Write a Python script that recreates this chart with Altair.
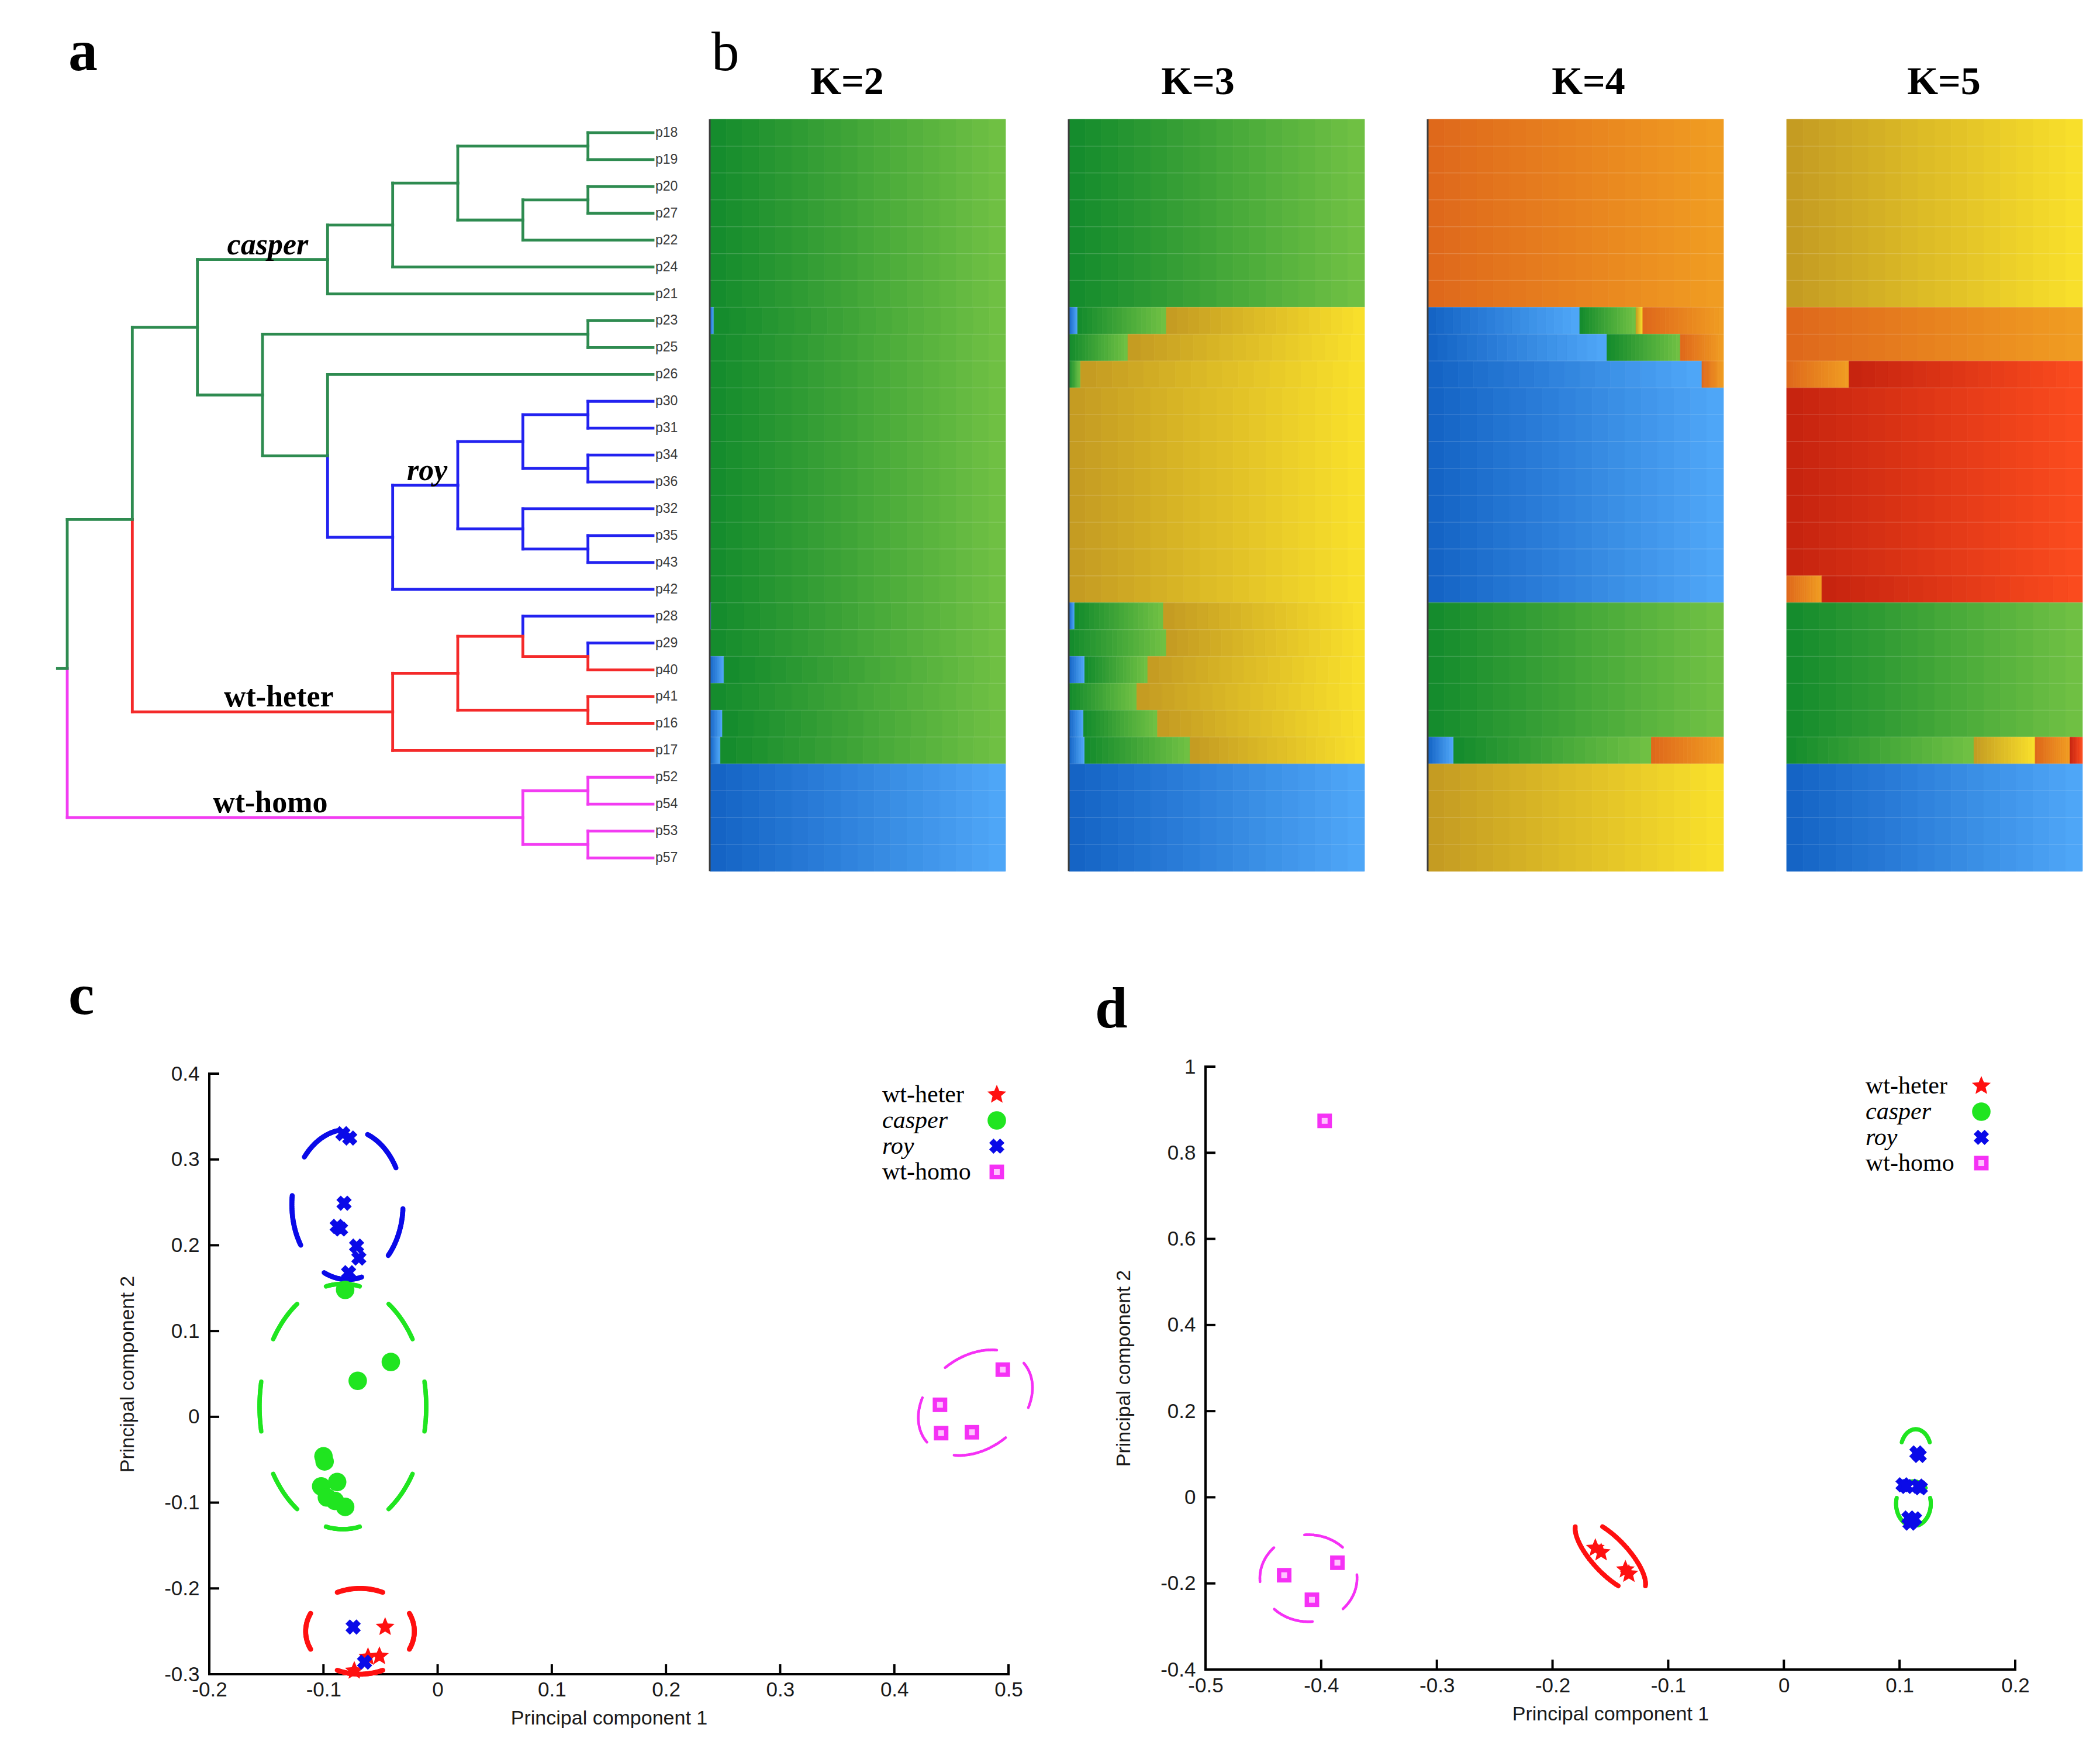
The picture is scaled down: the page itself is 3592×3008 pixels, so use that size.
import altair as alt
import numpy as np
import pandas as pd

# ------------------------------------------------------------------ data
LEAVES = ["p18", "p19", "p20", "p27", "p22", "p24", "p21", "p23", "p25", "p26",
          "p30", "p31", "p34", "p36", "p32", "p35", "p43", "p42",
          "p28", "p29", "p40", "p41", "p16", "p17", "p52", "p54", "p53", "p57"]
LEAF_GROUP = (["casper"] * 10 + ["roy"] * 8 + ["roy", "roy"] +
              ["wt-heter"] * 4 + ["wt-homo"] * 4)

# internal nodes: (name, level, group, child1, child2) -- children listed first
TREE_NODES = [
    ("A", 8, "casper", "p18", "p19"),
    ("B", 8, "casper", "p20", "p27"),
    ("C", 7, "casper", "B", "p22"),
    ("D", 6, "casper", "A", "C"),
    ("E", 5, "casper", "D", "p24"),
    ("F", 4, "casper", "E", "p21"),
    ("I", 8, "casper", "p23", "p25"),
    ("M1", 8, "roy", "p30", "p31"),
    ("M2", 8, "roy", "p34", "p36"),
    ("M", 7, "roy", "M1", "M2"),
    ("N1", 8, "roy", "p35", "p43"),
    ("N", 7, "roy", "p32", "N1"),
    ("L", 6, "roy", "M", "N"),
    ("K", 5, "roy", "L", "p42"),
    ("J", 4, "casper", "p26", "K"),
    ("H", 3, "casper", "I", "J"),
    ("G", 2, "casper", "F", "H"),
    ("Q1", 8, "wt-heter", "p29", "p40"),
    ("Q", 7, "wt-heter", "p28", "Q1"),
    ("P1", 8, "wt-heter", "p41", "p16"),
    ("P", 6, "wt-heter", "Q", "P1"),
    ("O", 5, "wt-heter", "P", "p17"),
    ("R", 1, "casper", "G", "O"),
    ("S1", 8, "wt-homo", "p52", "p54"),
    ("S2", 8, "wt-homo", "p53", "p57"),
    ("S", 7, "wt-homo", "S1", "S2"),
    ("ROOT", 0, "casper", "R", "S"),
]
LEAF_LEVEL = 9
CLADE_LABELS = ["casper", "roy", "wt-heter", "wt-homo"]
CLADE_LABEL_LEVEL = [3.08, 5.53, 3.25, 3.12]
CLADE_LABEL_NODE = ["F", "L", "O", "S"]

# admixture proportions, one value per leaf (same order as LEAVES)
K_LIST = ["K=2", "K=3", "K=4", "K=5"]
K2_BLUE = [0, 0, 0, 0, 0, 0, 0, 0.014, 0, 0, 0, 0, 0, 0, 0, 0, 0, 0,
           0.005, 0, 0.048, 0, 0.043, 0.036, 1, 1, 1, 1]
K2_GREEN = [1, 1, 1, 1, 1, 1, 1, 0.986, 1, 1, 1, 1, 1, 1, 1, 1, 1, 1,
            0.995, 1, 0.952, 1, 0.957, 0.964, 0, 0, 0, 0]
K3_BLUE = [0, 0, 0, 0, 0, 0, 0, 0.03, 0, 0, 0, 0, 0, 0, 0, 0, 0, 0,
           0.02, 0, 0.054, 0, 0.05, 0.054, 1, 1, 1, 1]
K3_GREEN = [1, 1, 1, 1, 1, 1, 1, 0.30, 0.20, 0.04, 0, 0, 0, 0, 0, 0, 0, 0,
            0.30, 0.33, 0.213, 0.23, 0.25, 0.356, 0, 0, 0, 0]
K3_YELLOW = [0, 0, 0, 0, 0, 0, 0, 0.67, 0.80, 0.96, 1, 1, 1, 1, 1, 1, 1, 1,
             0.68, 0.67, 0.733, 0.77, 0.70, 0.59, 0, 0, 0, 0]
K4_BLUE = [0, 0, 0, 0, 0, 0, 0, 0.514, 0.606, 0.927, 1, 1, 1, 1, 1, 1, 1, 1,
           0, 0, 0, 0, 0, 0.088, 0, 0, 0, 0]
K4_GREEN = [0, 0, 0, 0, 0, 0, 0, 0.19, 0.248, 0, 0, 0, 0, 0, 0, 0, 0, 0,
            1, 1, 1, 1, 1, 0.668, 0, 0, 0, 0]
K4_YELLOW = [0, 0, 0, 0, 0, 0, 0, 0.023, 0, 0, 0, 0, 0, 0, 0, 0, 0, 0,
             0, 0, 0, 0, 0, 0, 1, 1, 1, 1]
K4_ORANGE = [1, 1, 1, 1, 1, 1, 1, 0.273, 0.146, 0.073, 0, 0, 0, 0, 0, 0, 0, 0,
             0, 0, 0, 0, 0, 0.244, 0, 0, 0, 0]
K5_BLUE = [0, 0, 0, 0, 0, 0, 0, 0, 0, 0, 0, 0, 0, 0, 0, 0, 0, 0,
           0, 0, 0, 0, 0, 0, 1, 1, 1, 1]
K5_GREEN = [0, 0, 0, 0, 0, 0, 0, 0, 0, 0, 0, 0, 0, 0, 0, 0, 0, 0,
            1, 1, 1, 1, 1, 0.633, 0, 0, 0, 0]
K5_YELLOW = [1, 1, 1, 1, 1, 1, 1, 0, 0, 0, 0, 0, 0, 0, 0, 0, 0, 0,
             0, 0, 0, 0, 0, 0.207, 0, 0, 0, 0]
K5_ORANGE = [0, 0, 0, 0, 0, 0, 0, 1, 1, 0.211, 0, 0, 0, 0, 0, 0, 0, 0.119,
             0, 0, 0, 0, 0, 0.118, 0, 0, 0, 0]
K5_RED = [0, 0, 0, 0, 0, 0, 0, 0, 0, 0.789, 1, 1, 1, 1, 1, 1, 1, 0.881,
          0, 0, 0, 0, 0, 0.042, 0, 0, 0, 0]
K_DATA = {
    "K=2": {"blue": K2_BLUE, "green": K2_GREEN},
    "K=3": {"blue": K3_BLUE, "green": K3_GREEN, "yellow": K3_YELLOW},
    "K=4": {"blue": K4_BLUE, "green": K4_GREEN, "yellow": K4_YELLOW, "orange": K4_ORANGE},
    "K=5": {"blue": K5_BLUE, "green": K5_GREEN, "yellow": K5_YELLOW,
            "orange": K5_ORANGE, "red": K5_RED},
}
COMP_ORDER = ["blue", "green", "yellow", "orange", "red"]

# PCA panel c
GROUPS = ["wt-heter", "casper", "roy", "wt-homo"]
C_HETER_X = [-0.046, -0.061, -0.051, -0.073]
C_HETER_Y = [-0.245, -0.280, -0.279, -0.296]
C_CASPER_X = [-0.081, -0.041, -0.070, -0.100, -0.099, -0.102, -0.088, -0.097, -0.090, -0.081]
C_CASPER_Y = [0.148, 0.064, 0.042, -0.046, -0.052, -0.081, -0.076, -0.094, -0.098, -0.105]
C_ROY_X = [-0.083, -0.077, -0.082, -0.088, -0.085, -0.071, -0.069, -0.078, -0.074, -0.064]
C_ROY_Y = [0.330, 0.325, 0.249, 0.222, 0.219, 0.199, 0.185, 0.168, -0.245, -0.286]
C_HOMO_X = [0.440, 0.441, 0.468, 0.495]
C_HOMO_Y = [0.014, -0.019, -0.018, 0.055]
C_X_TICKS = [-0.2, -0.1, 0, 0.1, 0.2, 0.3, 0.4, 0.5]
C_Y_TICKS = [-0.3, -0.2, -0.1, 0, 0.1, 0.2, 0.3, 0.4]
# ellipses: id, group, cx, cy, rx, ry, x-shear, y-shear
C_ELLIPSES = [
    ("c_roy", "roy", -0.079, 0.2475, 0.0487, 0.0875, 0, 0),
    ("c_casper", "casper", -0.083, 0.012, 0.073, 0.143, 0, 0),
    ("c_heter", "wt-heter", -0.068, -0.250, 0.0476, 0.050, 0, 0),
    ("c_homo", "wt-homo", 0.471, 0.0165, 0.050, 0.059, 0, 0.35),
]

# PCA panel d
D_HETER_X = [-0.163, -0.158, -0.137, -0.134]
D_HETER_Y = [-0.118, -0.128, -0.168, -0.178]
D_ROY_X = [0.115, 0.117, 0.103, 0.106, 0.116, 0.118, 0.108, 0.111, 0.109, 0.113]
D_ROY_Y = [0.103, 0.097, 0.029, 0.025, 0.026, 0.022, -0.048, -0.055, -0.060, -0.050]
D_HOMO_X = [-0.397, -0.432, -0.386, -0.408]
D_HOMO_Y = [0.874, -0.181, -0.152, -0.238]
D_X_TICKS = [-0.5, -0.4, -0.3, -0.2, -0.1, 0, 0.1, 0.2]
D_Y_TICKS = [-0.4, -0.2, 0, 0.2, 0.4, 0.6, 0.8, 1]
D_ELLIPSES = [
    ("d_homo", "wt-homo", -0.411, -0.188, 0.042, 0.101, 0, 0),
    ("d_heter", "wt-heter", -0.150, -0.137, 0.020, 0.085, -0.27, 0),
    ("d_casper1", "casper", 0.114, 0.110, 0.013, 0.048, 0, 0),
    ("d_casper2", "casper", 0.112, -0.015, 0.015, 0.052, 0, 0),
]

# ------------------------------------------------------------------ styles / layout (page px)
SERIF = "Liberation Serif"
SANS = "Liberation Sans"
M = 8

TREE_COLOR = {"casper": "#2e8b50", "roy": "#2222f0", "wt-heter": "#f42a2a", "wt-homo": "#f23cf2"}
PCA_COLOR = {"wt-heter": "#ff1010", "casper": "#20e520", "roy": "#0a0ae8", "wt-homo": "#f531f5"}
GRAD = {
    "blue": ("#1362c4", "#50a8f8"),
    "green": ("#128a2c", "#72c244"),
    "yellow": ("#c49a22", "#f9e12b"),
    "orange": ("#de681b", "#f19d22"),
    "red": ("#c6230f", "#fb4c1e"),
}
N_SLICES = 18
ELLIPSE_STYLE = {
    "c_roy": dict(n=5, phase=49, duty=0.55, width=8.5),
    "c_casper": dict(n=8, phase=0, duty=0.52, width=7.5),
    "c_heter": dict(n=4, phase=0, duty=0.55, width=8.5),
    "c_homo": dict(n=4, phase=5, duty=0.6, width=4.5),
    "d_homo": dict(n=4, phase=70, duty=0.55, width=4.5),
    "d_heter": dict(n=2, phase=0, duty=0.6, width=8),
    "d_casper1": dict(n=1, phase=90, duty=0.38, width=7),
    "d_casper2": dict(n=3, phase=90, duty=0.75, width=7),
}
ITALIC = {"casper", "roy"}
TICK_LEN = 17

# unit star path for the wt-heter marker
_ang = [np.deg2rad(-90 + 36 * j) for j in range(10)]
_rad = [1.0 if j % 2 == 0 else 0.45 for j in range(10)]
STAR_PATH = "M" + " L".join(f"{r * np.cos(a):.3f},{r * np.sin(a):.3f}" for a, r in zip(_ang, _rad)) + " Z"

# top row
TOP_Y0, ROWS_Y0, ROWS_Y1 = 8, 204, 1490
ROW_STEP = (ROWS_Y1 - ROWS_Y0) / len(LEAVES)
TREE_X0 = 8
LEVEL0_X, LEVEL9_X = 112, 1114
BAR_W, BAR_GAP = 506, 108
K2_X0 = 1211
TREE_W = K2_X0 - BAR_GAP - TREE_X0
K_TITLE_DX = {"K=2": 235, "K=3": 221, "K=4": 275, "K=5": 269}
ROOT_STUB = -0.15

# bottom row (plot areas start above the panel letters)
BOT_Y0, BOT_Y1 = 1640, 2858
C_X = (355, 1722)
C_YPIX = (2858, 1831)
D_X = (2059, 3444)
D_YPIX = (2850, 1819)
BOT_GAP = D_X[0] - C_X[1]
SPACER_W = C_X[0] - M - BOT_GAP


def hex2rgb(h):
    return np.array([int(h[i:i + 2], 16) for i in (1, 3, 5)], dtype=float)


def mix(c0, c1, f):
    v = hex2rgb(c0) * (1 - f) + hex2rgb(c1) * f
    return "#" + "".join(f"{int(round(t)):02x}" for t in v)


def text_layer(text, x, y, size, weight="normal", style="normal", align="left", font=SERIF):
    return alt.Chart(pd.DataFrame({"t": [text]})).mark_text(
        align=align, baseline="alphabetic", fontSize=size, fontWeight=weight,
        fontStyle=style, font=font, color="black"
    ).encode(text="t:N", x=alt.value(x), y=alt.value(y))


row_lo = (TOP_Y0 - ROWS_Y0) / ROW_STEP - 0.5
row_hi = len(LEAVES) - 0.5
ROW_SCALE = alt.Scale(domain=[row_lo, row_hi], reverse=True, nice=False, zero=False)
TOP_H = ROWS_Y1 - TOP_Y0

# ------------------------------------------------------------------ panel a: dendrogram
pos = {leaf: float(i) for i, leaf in enumerate(LEAVES)}
level = {leaf: LEAF_LEVEL for leaf in LEAVES}
group = dict(zip(LEAVES, LEAF_GROUP))
segs = []
for name, lv, grp, c1, c2 in TREE_NODES:
    level[name] = lv
    group[name] = grp
    pos[name] = (pos[c1] + pos[c2]) / 2
    for ch in (c1, c2):
        col = TREE_COLOR[group[ch]]
        segs.append(dict(x=lv, x2=lv, y=pos[name], y2=pos[ch], c=col))
        segs.append(dict(x=lv, x2=level[ch], y=pos[ch], y2=pos[ch], c=col))
root = TREE_NODES[-1][0]
segs.append(dict(x=ROOT_STUB, x2=level[root], y=pos[root], y2=pos[root], c=TREE_COLOR[group[root]]))
seg_df = pd.DataFrame(segs)

lv_px = (LEVEL9_X - LEVEL0_X) / LEAF_LEVEL
tree_xs = alt.Scale(domain=[(TREE_X0 - LEVEL0_X) / lv_px, (TREE_X0 + TREE_W - LEVEL0_X) / lv_px],
                    nice=False, zero=False)


def TX(f):
    return alt.X(f, scale=tree_xs, axis=None)


def TY(f):
    return alt.Y(f, scale=ROW_SCALE, axis=None)


tree = alt.Chart(seg_df).mark_rule(strokeWidth=4.8, strokeCap="square").encode(
    x=TX("x:Q"), x2="x2:Q", y=TY("y:Q"), y2="y2:Q", color=alt.Color("c:N", scale=None))
leaf_df = pd.DataFrame({"name": LEAVES, "x": LEAF_LEVEL, "y": [pos[l] for l in LEAVES]})
leaf_text = alt.Chart(leaf_df).mark_text(
    align="left", baseline="middle", dx=4, fontSize=23, font=SANS, color="#3a3a3a"
).encode(x=TX("x:Q"), y=TY("y:Q"), text="name:N")
clade_df = pd.DataFrame({"t": CLADE_LABELS, "x": CLADE_LABEL_LEVEL,
                         "y": [pos[n] for n in CLADE_LABEL_NODE]})
clade_layers = []
for italic in (True, False):
    sub = clade_df[clade_df.t.isin(ITALIC) == italic]
    clade_layers.append(alt.Chart(sub).mark_text(
        align="center", baseline="alphabetic", dy=-9, fontSize=52, fontWeight="bold",
        fontStyle="italic" if italic else "normal", font=SERIF, color="black"
    ).encode(x=TX("x:Q"), y=TY("y:Q"), text="t:N"))
panel_a = alt.layer(tree, leaf_text, *clade_layers,
                    text_layer("a", 114 - TREE_X0, 120 - TOP_Y0, 100, weight="bold")
                    ).properties(width=TREE_W, height=TOP_H)

# ------------------------------------------------------------------ panel b: admixture bars
bar_xs = alt.Scale(domain=[0, 1], nice=False, zero=False)
bar_panels = []
for n, k in enumerate(K_LIST):
    comps = K_DATA[k]
    rows = []
    for i, s in enumerate(LEAVES):
        acc = 0.0
        for c in COMP_ORDER:
            if c in comps and comps[c][i] > 0:
                w = comps[c][i]
                g0, g1 = GRAD[c]
                for j in range(N_SLICES):
                    rows.append(dict(sample=s, comp=c,
                                     start=acc + w * j / N_SLICES,
                                     end=acc + w * (j + 1) / N_SLICES,
                                     y=i - 0.5, y2=i + 0.5,
                                     col=mix(g0, g1, (j + 0.5) / N_SLICES)))
                acc += w
    df = pd.DataFrame(rows)
    sub_layers = [alt.Chart(df).mark_rect(strokeWidth=0.8).encode(
        x=alt.X("start:Q", scale=bar_xs, axis=None), x2="end:Q",
        y=alt.Y("y:Q", scale=ROW_SCALE, axis=None), y2="y2:Q",
        fill=alt.Fill("col:N", scale=None), stroke=alt.Stroke("col:N", scale=None))]
    # faint separators between samples
    sep = pd.DataFrame({"v0": 0, "v1": 1, "y": [i + 0.5 for i in range(len(LEAVES) - 1)]})
    sub_layers.append(alt.Chart(sep).mark_rule(color="white", opacity=0.15, strokeWidth=1.5).encode(
        x=alt.X("v0:Q", scale=bar_xs, axis=None), x2="v1:Q",
        y=alt.Y("y:Q", scale=ROW_SCALE, axis=None)))
    if k != "K=5":
        edge = pd.DataFrame({"v": [0], "y": [-0.5], "y2": [len(LEAVES) - 0.5]})
        sub_layers.append(alt.Chart(edge).mark_rule(color="#3c3c3c", strokeWidth=3).encode(
            x=alt.X("v:Q", scale=bar_xs, axis=None),
            y=alt.Y("y:Q", scale=ROW_SCALE, axis=None), y2="y2:Q"))
    sub_layers.append(text_layer(k, K_TITLE_DX[k], 161 - TOP_Y0, 68, weight="bold", align="center"))
    if n == 0:
        sub_layers.append(text_layer("b", 1214 - K2_X0, 120 - TOP_Y0, 95))
    bar_panels.append(alt.layer(*sub_layers).properties(width=BAR_W, height=TOP_H))

top_row = alt.hconcat(panel_a, *bar_panels, spacing=BAR_GAP, bounds="flush")


# ------------------------------------------------------------------ panels c, d: PCA
def marker_layers(df, xenc, yenc, grp):
    col = PCA_COLOR[grp]
    base = alt.Chart(df)
    if grp == "wt-heter":
        return [base.mark_point(shape=STAR_PATH, filled=True, size=1150, color=col, opacity=1,
                                strokeWidth=0).encode(x=xenc, y=yenc)]
    if grp == "casper":
        return [base.mark_point(shape="circle", filled=True, size=1000, color=col, opacity=1,
                                strokeWidth=0).encode(x=xenc, y=yenc)]
    if grp == "roy":
        return [base.mark_point(shape="cross", angle=45, filled=True, size=700, color=col,
                                opacity=1, strokeWidth=0).encode(x=xenc, y=yenc)]
    return [base.mark_point(shape="square", filled=True, size=620, color=col, opacity=1,
                            strokeWidth=0).encode(x=xenc, y=yenc),
            base.mark_point(shape="square", filled=True, size=100, color="#ffc2ff", opacity=1,
                            strokeWidth=0).encode(x=xenc, y=yenc)]


def ellipse_segments(e):
    eid, grp, cx, cy, rx, ry, kx, ky = e
    st = ELLIPSE_STYLE[eid]
    rows = []
    for k in range(st["n"]):
        c = np.deg2rad(st["phase"] + k * 360.0 / st["n"])
        half = np.deg2rad(st["duty"] * 180.0 / st["n"])
        ts = np.linspace(c - half, c + half, 25)
        pts = []
        for t in ts:
            dx, dy = rx * np.cos(t), ry * np.sin(t)
            pts.append((float(cx + dx + kx * dy), float(cy + dy + ky * dx)))
        for (x0, y0), (x1, y1) in zip(pts[:-1], pts[1:]):
            rows.append(dict(x=x0, y=y0, x2=x1, y2=y1))
    return pd.DataFrame(rows)


def pca_panel(xt, yt, xpix, ypix, points, ellipses, legend, letter, lab_pad):
    width = xpix[1] - xpix[0]
    height = BOT_Y1 - BOT_Y0
    ppu_y = (ypix[0] - ypix[1]) / (yt[-1] - yt[0])
    ppu_x = width / (xt[-1] - xt[0])
    ydom = [yt[0] - (BOT_Y1 - ypix[0]) / ppu_y, yt[-1] + (ypix[1] - BOT_Y0) / ppu_y]
    xs = alt.Scale(domain=[xt[0], xt[-1]], nice=False, zero=False)
    ys = alt.Scale(domain=ydom, nice=False, zero=False)
    common = dict(ticks=False, grid=False, domain=False,
                  labelFont=SANS, labelFontSize=35, labelColor="#1a1a1a",
                  labelFlush=False, labelOverlap=False, labelExpr="'' + datum.value",
                  titleFont=SANS, titleFontSize=34, titleFontWeight="normal", titleColor="#1a1a1a")
    xax = alt.Axis(orient="bottom", values=xt, labelPadding=lab_pad,
                   title="Principal component 1", titlePadding=14, **common)
    yax = alt.Axis(orient="left", values=yt, labelPadding=17,
                   title="Principal component 2", titlePadding=45,
                   titleY=(ypix[0] + ypix[1]) / 2 - BOT_Y0, **common)
    X = alt.X("x:Q", scale=xs, axis=xax)
    Y = alt.Y("y:Q", scale=ys, axis=yax)
    sub = []
    frame = pd.DataFrame({"x": [xt[0], xt[0]], "x2": [xt[-1], xt[0]],
                          "y": [yt[0], yt[0]], "y2": [yt[0], yt[-1]]})
    sub.append(alt.Chart(frame).mark_rule(color="black", strokeWidth=4, strokeCap="square").encode(
        x=X, x2="x2:Q", y=Y, y2="y2:Q"))
    ticks = pd.DataFrame(
        [dict(x=v, x2=v, y=yt[0], y2=yt[0] + TICK_LEN / ppu_y) for v in xt] +
        [dict(x=xt[0], x2=xt[0] + TICK_LEN / ppu_x, y=v, y2=v) for v in yt])
    sub.append(alt.Chart(ticks).mark_rule(color="black", strokeWidth=4).encode(
        x=X, x2="x2:Q", y=Y, y2="y2:Q"))
    for e in ellipses:
        st = ELLIPSE_STYLE[e[0]]
        sub.append(alt.Chart(ellipse_segments(e)).mark_rule(
            color=PCA_COLOR[e[1]], strokeWidth=st["width"], strokeCap="round"
        ).encode(x=X, x2="x2:Q", y=Y, y2="y2:Q"))
    for grp in GROUPS:
        if grp in points:
            gx, gy = points[grp]
            sub.extend(marker_layers(pd.DataFrame({"x": gx, "y": gy}), X, Y, grp))
    tx, sx, y0, dy = legend
    for j, grp in enumerate(GROUPS):
        ly = y0 + j * dy - BOT_Y0
        sub.append(alt.Chart(pd.DataFrame({"g": [grp]})).mark_text(
            align="left", baseline="middle", fontSize=42, font=SERIF,
            fontStyle="italic" if grp in ITALIC else "normal", color="black"
        ).encode(x=alt.value(tx - xpix[0]), y=alt.value(ly), text="g:N"))
        sub.extend(marker_layers(pd.DataFrame({"g": [grp]}), alt.value(sx - xpix[0]),
                                 alt.value(ly), grp))
    lt, lx, lyy = letter
    sub.append(text_layer(lt, lx - xpix[0], lyy - BOT_Y0, 100, weight="bold"))
    return alt.layer(*sub).properties(width=width, height=height)


panel_c = pca_panel(
    C_X_TICKS, C_Y_TICKS, C_X, C_YPIX,
    {"wt-heter": (C_HETER_X, C_HETER_Y), "casper": (C_CASPER_X, C_CASPER_Y),
     "roy": (C_ROY_X, C_ROY_Y), "wt-homo": (C_HOMO_X, C_HOMO_Y)},
    C_ELLIPSES, (1506, 1702, 1867, 44), ("c", 114, 1729), 9)
panel_d = pca_panel(
    D_X_TICKS, D_Y_TICKS, D_X, D_YPIX,
    {"wt-heter": (D_HETER_X, D_HETER_Y), "roy": (D_ROY_X, D_ROY_Y),
     "wt-homo": (D_HOMO_X, D_HOMO_Y)},
    D_ELLIPSES, (3188, 3386, 1852, 44), ("d", 1870, 1752), 2)

spacer = alt.Chart(pd.DataFrame({"v": [0]})).mark_point(opacity=0).encode(
    x=alt.value(0), y=alt.value(0)).properties(width=SPACER_W, height=BOT_Y1 - BOT_Y0)
bottom_row = alt.hconcat(spacer, panel_c, panel_d, spacing=BOT_GAP, bounds="flush")

chart = alt.vconcat(top_row, bottom_row, spacing=BOT_Y0 - ROWS_Y1).properties(
    padding=0, background="white"
).configure_view(stroke=None)

chart.save("out.html", embed_options={"renderer": "svg", "actions": False})
